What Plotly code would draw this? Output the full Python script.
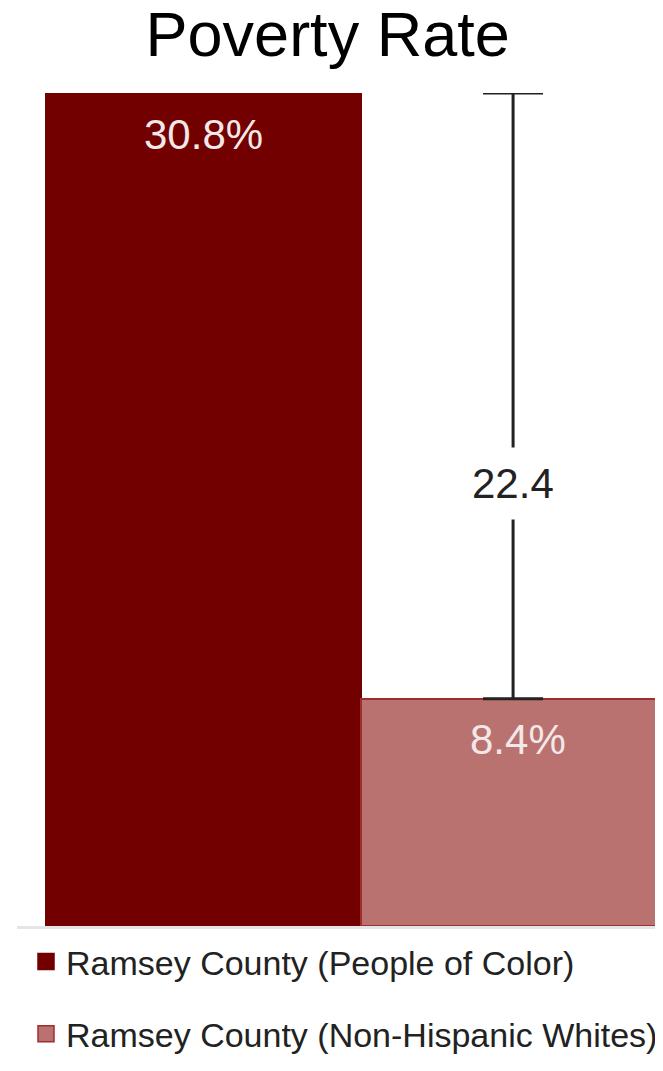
import plotly.graph_objects as go

title = "Poverty Rate"
categories = ["Ramsey County (People of Color)", "Ramsey County (Non-Hispanic Whites)"]
values = [30.8, 8.4]
labels = ["30.8%", "8.4%"]
gap_value = 22.4
gap_label = "22.4"

colors = ["#730000", "#BA7271"]
outlines = ["#730000", "#9E2F2F"]
xpos = [0, 1]
FONT = "Liberation Sans, Arial"

W, H = 655, 1055

fig = go.Figure()
for i in range(2):
    fig.add_trace(go.Bar(
        x=[xpos[i]], y=[values[i]], name=categories[i], width=1,
        marker=dict(color=colors[i], line=dict(color=outlines[i], width=2)),
        showlegend=False, hoverinfo="skip",
    ))
# legend entries (larger square swatches)
for i in range(2):
    fig.add_trace(go.Scatter(
        x=[None], y=[None], mode="markers", name=categories[i],
        marker=dict(symbol="square", size=16, color=colors[i],
                    line=dict(color=outlines[i], width=1.5)),
        legendgroup=f"g{i}", showlegend=True, hoverinfo="skip",
    ))

# difference bracket
fig.add_trace(go.Scatter(
    x=[0.983], y=[values[1]], mode="markers",
    marker=dict(size=1, color="rgba(0,0,0,0)"),
    error_y=dict(type="data", symmetric=False, array=[gap_value], arrayminus=[0],
                 color="#222222", thickness=3, width=30),
    showlegend=False, hoverinfo="skip",
))

annotations = []
for i in range(2):
    annotations.append(dict(
        x=xpos[i], y=values[i], xref="x", yref="y", text=labels[i],
        showarrow=False, yanchor="middle", yshift=-41,
        font=dict(family=FONT, size=42, color="#F2E8E8"),
    ))
annotations.append(dict(
    x=0.983, y=values[1] + gap_value * 0.355, xref="x", yref="y", text=gap_label,
    showarrow=False, bgcolor="white", borderpad=12,
    font=dict(family=FONT, size=42, color="#222222"),
))

fig.update_layout(
    width=W, height=H,
    margin=dict(l=9, r=0, t=85, b=118),
    plot_bgcolor="white", paper_bgcolor="white",
    bargap=0,
    title=dict(text=title, x=0.488, xanchor="center", yref="container",
               y=1 - 26 / H, yanchor="middle",
               font=dict(family=FONT, size=63, color="#000000")),
    xaxis=dict(range=[-0.592, 1.459], showticklabels=False, showgrid=False,
               zeroline=False, showline=True, linecolor="#E3E6E8", linewidth=3, ticks=""),
    yaxis=dict(range=[0, values[0]], showticklabels=False, showgrid=False,
               zeroline=False, showline=False, ticks=""),
    showlegend=True,
    legend=dict(orientation="v", x=0.028, xanchor="left", y=-0.0083, yanchor="top",
                font=dict(family=FONT, size=34, color="#222222"),
                tracegroupgap=25, itemwidth=30, bgcolor="rgba(0,0,0,0)"),
    annotations=annotations,
)

fig.write_html("out.html")
